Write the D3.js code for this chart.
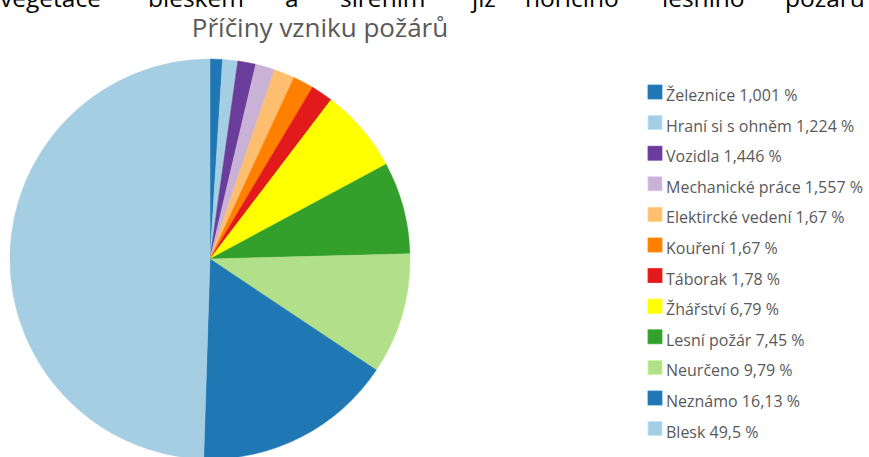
<!DOCTYPE html>
<meta charset="utf-8">
<style>
body { margin: 0; background: #fff; }
svg { display: block; }
.intro { font: 24.5px "Open Sans", sans-serif; fill: #000; }
.title { font: 26px "Open Sans", sans-serif; fill: #595959; }
.legend text { font: 16px "Open Sans", sans-serif; fill: #595959; }
</style>
<svg width="869" height="457"></svg>
<script src="https://d3js.org/d3.v7.min.js"></script>
<script>

var causes = ["Železnice", "Hraní si s ohněm", "Vozidla", "Mechanické práce",
  "Elektircké vedení", "Kouření", "Táborak", "Žhářství", "Lesní požár",
  "Neurčeno", "Neznámo", "Blesk"];
var shares = [1.001, 1.224, 1.446, 1.557, 1.67, 1.67, 1.78, 6.79, 7.45, 9.79, 16.13, 49.5];
var shareLabels = ["1,001", "1,224", "1,446", "1,557", "1,67", "1,67", "1,78",
  "6,79", "7,45", "9,79", "16,13", "49,5"];
var colors = ["#1f78b4", "#a6cee3", "#6a3d9a", "#cab2d6", "#fdbf6f", "#ff7f00",
  "#e31a1c", "#ffff00", "#33a02c", "#b2df8a", "#1f78b4", "#a6cee3"];

// the tail of the paragraph above the chart (justified line, cut at the top)
var introWords = ["vegetace", "bleskem", "a", "šířením", "již", "hořícího", "lesního", "požáru"];
var introX = [0, 148, 285, 340, 472, 525, 662, 785];

var svg = d3.select("svg");

svg.selectAll(".intro")
  .data(introWords)
  .enter().append("text")
    .attr("class", "intro")
    .attr("x", (d, i) => introX[i])
    .attr("y", 7)
    .text(d => d);

svg.append("text")
    .attr("class", "title")
    .attr("x", 320)
    .attr("y", 37)
    .attr("text-anchor", "middle")
    .text("Příčiny vzniku požárů");

var data = causes.map((c, i) => ({ name: c, value: shares[i], label: shareLabels[i], color: colors[i] }));

var pie = d3.pie().sort(null).value(d => d.value);
var arc = d3.arc().innerRadius(0).outerRadius(200);

svg.append("g")
    .attr("transform", "translate(210,259)")
  .selectAll("path")
  .data(pie(data))
  .enter().append("path")
    .attr("d", arc)
    .attr("fill", d => d.data.color)
    .attr("stroke", d => d.data.color)
    .attr("stroke-width", 0.5);

var legendY = d3.scaleLinear().domain([0, causes.length - 1]).range([85, 421.6]);

var legend = svg.selectAll(".legend")
  .data(data)
  .enter().append("g")
    .attr("class", "legend")
    .attr("transform", (d, i) => "translate(648," + legendY(i) + ")");

legend.append("rect")
    .attr("width", 14)
    .attr("height", 14)
    .attr("fill", d => d.color)
    .attr("stroke", d => d3.color(d.color).brighter(0.3))
    .attr("stroke-width", 0.8);

legend.append("text")
    .attr("x", 18)
    .attr("y", 16)
    .text(d => d.name + " " + d.label + " %");

</script>
